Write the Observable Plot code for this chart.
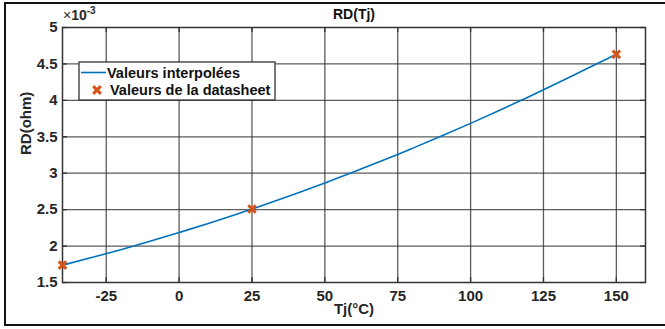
<!DOCTYPE html>
<html><head><meta charset="utf-8">
<script src="https://cdn.jsdelivr.net/npm/d3@7"></script>
<script src="https://cdn.jsdelivr.net/npm/@observablehq/plot@0.6"></script>
<style>
body{margin:0;background:#fff;}
#wrap{position:relative;width:665px;height:329px;}
</style></head><body><div id="wrap"></div>
<script>
// Interpolated curve (RD in units of 1e-3 ohm)
const tjCurve = [-40,-30,-20,-10,0,10,20,25,30,40,50,60,70,75,80,90,100,110,120,125,130,140,150];
const rdCurve = [1.738,1.842,1.950,2.065,2.186,2.310,2.441,2.508,2.577,2.719,2.866,3.019,3.177,3.258,3.341,3.510,3.684,3.865,4.050,4.145,4.241,4.438,4.632];
// Datasheet values
const tjSheet = [-40,25,150];
const rdSheet = [1.738,2.508,4.632];
// Ticks
const xTicks = [-25,0,25,50,75,100,125,150];
const yTicks = [1.5,2,2.5,3,3.5,4,4.5,5];
const xDomain = [-40,160];
const yDomain = [1.5,5];
// Texts
const titleText = "RD(Tj)";
const xLabelText = "Tj(°C)";
const yLabelText = "RD(ohm)";
const expBase = "10", expSup = "-3";
const legendLabels = ["Valeurs interpolées","Valeurs de la datasheet"];

const blue = "#0072BD", orange = "#D95319";
const font = "'Liberation Sans', Arial, Helvetica, sans-serif";

const curve = tjCurve.map((t,i)=>({tj:t, rd:rdCurve[i]}));
const sheet = tjSheet.map((t,i)=>({tj:t, rd:rdSheet[i]}));

const W=665, H=329, mL=62, mR=20, mT=27, mB=47;
const innerW = W-mL-mR, innerH = H-mT-mB;
const tk = 5;

const chart = Plot.plot({
  width: W, height: H,
  marginLeft: mL, marginRight: mR, marginTop: mT, marginBottom: mB,
  style: {fontFamily: font, fontSize: "15px", fontWeight: "bold", color: "#262626", background: "white", overflow: "visible"},
  x: {domain: xDomain},
  y: {domain: yDomain},
  marks: [
    Plot.gridX(xTicks, {stroke: "#333", strokeOpacity: 0.8, strokeWidth: 1.3}),
    Plot.gridY(yTicks.slice(1,-1), {stroke: "#333", strokeOpacity: 0.8, strokeWidth: 1.3}),
    Plot.tickX(xTicks, {x: d=>d, insetTop: innerH-tk, stroke: "#333", strokeWidth: 1.3}),
    Plot.tickX(xTicks, {x: d=>d, insetBottom: innerH-tk, stroke: "#333", strokeWidth: 1.3}),
    Plot.tickY(yTicks, {y: d=>d, insetRight: innerW-tk, stroke: "#333", strokeWidth: 1.3}),
    Plot.tickY(yTicks, {y: d=>d, insetLeft: innerW-tk, stroke: "#333", strokeWidth: 1.3}),
    Plot.frame({stroke: "#333", strokeWidth: 1.5}),
    Plot.axisX(xTicks, {tickSize: 0, tickPadding: 8, label: null, tickFormat: d=>String(d), fill: "#262626"}),
    Plot.axisY(yTicks, {tickSize: 0, tickPadding: 5, label: null, tickFormat: d=>String(d), fill: "#262626"}),
    Plot.line(curve, {x: "tj", y: "rd", stroke: blue, strokeWidth: 1.6, curve: "monotone-x"}),
    Plot.dot(sheet, {x: "tj", y: "rd", symbol: "times", r: 3.5, stroke: orange, strokeWidth: 3}),
    Plot.text([titleText], {frameAnchor: "top", dy: -13, lineAnchor: "middle", fontSize: 14, fontWeight: "bold", fill: "#111"}),
    Plot.text([xLabelText], {frameAnchor: "bottom", dy: 27, lineAnchor: "middle", fontSize: 15, fontWeight: "bold", fill: "#262626"}),
    Plot.text([yLabelText], {frameAnchor: "left", dx: -36, rotate: -90, lineAnchor: "middle", fontSize: 15, fontWeight: "bold", fill: "#262626"})
  ]
});

document.getElementById("wrap").appendChild(chart);
const svg = d3.select(chart);

// outer frame (top, left, bottom)
svg.append("path").attr("d", `M${W+2},3 H5 V325 H${W+2}`).attr("fill","none").attr("stroke","#111").attr("stroke-width",2);

// exponent label
const ex = svg.append("text").attr("x", mL+1).attr("y", mT-7).attr("text-anchor","start")
  .attr("font-family", font).attr("font-size", 14).attr("fill", "#262626");
ex.append("tspan").text("×").attr("font-weight","normal");
ex.append("tspan").text(expBase).attr("font-weight","bold");
ex.append("tspan").text(expSup).attr("font-weight","bold").attr("font-size", 10).attr("dy", -6);

// legend
const lg = svg.append("g").attr("font-family", font).attr("font-weight","bold").attr("font-size", 14.5).attr("fill","#111").attr("text-anchor","start");
lg.append("rect").attr("x",79).attr("y",62).attr("width",196).attr("height",38).attr("fill","white").attr("stroke","#333").attr("stroke-width",1.3);
lg.append("line").attr("x1",81).attr("x2",106).attr("y1",72.5).attr("y2",72.5).attr("stroke",blue).attr("stroke-width",1.6);
lg.append("text").attr("x",107).attr("y",72.5).attr("dy","0.35em").text(legendLabels[0]);
lg.append("path").attr("d", d3.symbol(d3.symbolTimes, 40)()).attr("transform","translate(97,90)").attr("stroke",orange).attr("stroke-width",3).attr("fill","none");
lg.append("text").attr("x",110).attr("y",90).attr("dy","0.35em").text(legendLabels[1]);
</script>
</body></html>
